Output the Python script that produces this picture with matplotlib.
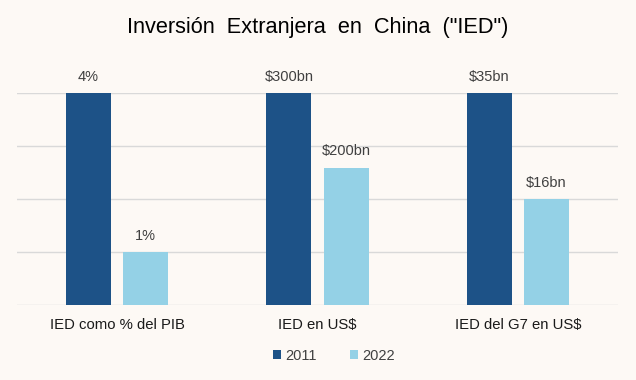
import matplotlib.pyplot as plt
import numpy as np

plt.rcParams['font.family'] = ['Liberation Sans', 'DejaVu Sans']

categories = ['IED como % del PIB', 'IED en US$', 'IED del G7 en US$']
series = ['2011', '2022']
# bar heights as drawn (relative to the 2011 value)
h_2011 = [1.0, 1.0, 1.0]
h_2022 = [0.25, 0.648, 0.5]
labels_2011 = ['4%', '$300bn', '$35bn']
labels_2022 = ['1%', '$200bn', '$16bn']

BG = '#fdf9f5'
DARK = '#1d5287'
LIGHT = '#94d1e6'

fig = plt.figure(figsize=(6.36, 3.8), dpi=100, facecolor=BG)
ax = fig.add_axes([0.0267, 0.197, 0.945, 0.558])
ax.set_facecolor(BG)

x = np.arange(len(categories))
w = 0.225
off = 0.1425
b1 = ax.bar(x - off, h_2011, w, color=DARK, label=series[0], zorder=3)
b2 = ax.bar(x + off, h_2022, w, color=LIGHT, label=series[1], zorder=3)

for bars, labs in [(b1, labels_2011), (b2, labels_2022)]:
    for r, t in zip(bars, labs):
        ax.text(r.get_x() + r.get_width() / 2, r.get_height() + 0.045, t,
                ha='center', va='bottom', fontsize=10.5, color='#404040', clip_on=False)

ax.set_xlim(-0.5, 2.5)
ax.set_ylim(0, 1)
ax.set_yticks([0, 0.25, 0.5, 0.75, 1.0])
ax.yaxis.grid(True, color='#d9d9d9', linewidth=1, zorder=0)
ax.tick_params(axis='y', left=False, labelleft=False)
ax.tick_params(axis='x', length=0, pad=9, labelsize=10.7, labelcolor='#1a1a1a')
ax.set_xticks(x)
ax.set_xticklabels(categories)
for s in ax.spines.values():
    s.set_visible(False)

fig.text(0.5, 0.927, 'Inversión  Extranjera  en  China  ("IED")', ha='center', va='center',
         fontsize=15.7, color='black')

fig.legend(handles=[b1, b2], loc='center', bbox_to_anchor=(0.525, 0.064), ncol=2,
           frameon=False, fontsize=10.5, handlelength=0.55, handleheight=0.55,
           handletextpad=0.25, columnspacing=2.3, labelcolor='#404040')

fig.savefig('out.png', dpi=100, facecolor=BG)
